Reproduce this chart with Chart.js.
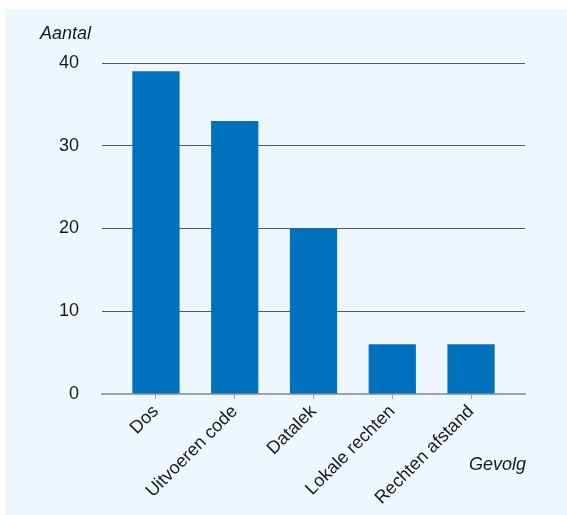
<!DOCTYPE html>
<html>
<head>
<meta charset="utf-8">
<script src="https://cdn.jsdelivr.net/npm/chart.js@4"></script>
<style>
  body { margin: 0; background: #ffffff; }
  #grafiek { position: absolute; left: 5px; top: 9px; background: #eef7fe; }
</style>
</head>
<body>
<canvas id="grafiek" width="562" height="506"></canvas>
<script>
// Gegevens
const categorieen = ['Dos', 'Uitvoeren code', 'Datalek', 'Lokale rechten', 'Rechten afstand'];
const aantallen = [39, 33, 20, 6, 6];
const yTicks = [0, 10, 20, 30, 40];
const yTitel = 'Aantal';
const xTitel = 'Gevolg';

const tekstKleur = '#1a1a1a';
const lettertype = '"Liberation Sans", Arial, Helvetica, sans-serif';

// Titels van de assen tekenen
const asTitels = {
    id: 'asTitels',
    afterDraw: function (chart) {
        const ctx = chart.ctx;
        const area = chart.chartArea;
        ctx.save();
        ctx.fillStyle = tekstKleur;
        ctx.font = 'italic 18px ' + lettertype;
        ctx.textBaseline = 'alphabetic';
        ctx.textAlign = 'left';
        ctx.fillText(yTitel, 35, 30);
        ctx.textAlign = 'right';
        ctx.fillText(xTitel, area.right + 1, 461);
        ctx.restore();
    }
};

new Chart(document.querySelector('#grafiek'), {
    type: 'bar',
    data: {
        datasets: [{
            data: aantallen.map(function (waarde, i) {
                return { x: i, y: waarde };
            }),
            backgroundColor: '#0071bc',
            borderWidth: 0,
            barPercentage: 0.6,
            categoryPercentage: 1
        }]
    },
    options: {
        responsive: false,
        animation: false,
        layout: { padding: { top: 54, right: 42, left: 0, bottom: 0 } },
        scales: {
            x: {
                type: 'linear',
                offset: false,
                min: -0.685,
                max: categorieen.length - 1 + 0.685,
                afterBuildTicks: function (scale) {
                    scale.ticks = categorieen.map(function (c, i) {
                        return { value: i };
                    });
                },
                afterFit: function (scale) {
                    scale.height = 121;
                },
                grid: {
                    display: true,
                    offset: false,
                    drawOnChartArea: false,
                    drawTicks: true,
                    tickLength: 5,
                    color: '#9aa3ab'
                },
                border: { display: true, color: '#9aa3ab', width: 2 },
                ticks: {
                    autoSkip: false,
                    minRotation: 45,
                    maxRotation: 45,
                    padding: 2,
                    color: tekstKleur,
                    font: { size: 18, family: lettertype },
                    callback: function (value) {
                        return categorieen[value];
                    }
                }
            },
            y: {
                min: 0,
                max: 40,
                afterBuildTicks: function (scale) {
                    scale.ticks = yTicks.map(function (v) {
                        return { value: v };
                    });
                },
                afterFit: function (scale) {
                    scale.width = 97;
                },
                grid: {
                    drawTicks: false,
                    lineWidth: 1,
                    color: function (context) {
                        return context.tick && context.tick.value === 0 ? 'rgba(0,0,0,0)' : '#555a60';
                    }
                },
                border: { display: false },
                ticks: {
                    padding: 23,
                    color: tekstKleur,
                    font: { size: 18, family: lettertype }
                }
            }
        },
        plugins: {
            legend: { display: false },
            tooltip: { enabled: false }
        }
    },
    plugins: [asTitels]
});
</script>
</body>
</html>
